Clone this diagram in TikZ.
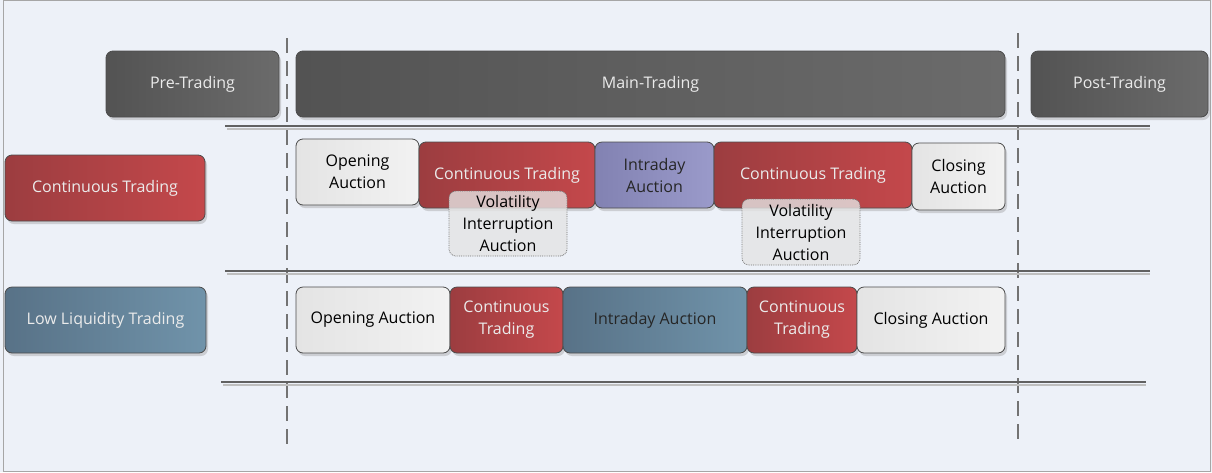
\documentclass[tikz,border=0pt]{standalone}
\usepackage{fontspec}
\setmainfont{Open Sans}
\usepackage{xcolor}
\usetikzlibrary{shadows}

\definecolor{bgpage}{HTML}{EDF1F8}
\definecolor{darkA}{HTML}{535353}
\definecolor{darkB}{HTML}{6B6B6B}
\definecolor{redA}{HTML}{9C3D40}
\definecolor{redB}{HTML}{C4484B}
\definecolor{steelA}{HTML}{587287}
\definecolor{steelB}{HTML}{7093AA}
\definecolor{purpA}{HTML}{8282B2}
\definecolor{purpB}{HTML}{9A9ACA}
\definecolor{lightA}{HTML}{E4E4E4}
\definecolor{lightB}{HTML}{F2F2F2}

\begin{document}
\begin{tikzpicture}[x=1pt,y=-1pt,
  every node/.style={font=\fontsize{16}{22}\selectfont, align=center, inner sep=0pt},
  box/.style={rounded corners=7pt, draw=black!70, line width=0.8pt,
    drop shadow={shadow xshift=2pt, shadow yshift=-3pt, opacity=0.3}},
  darkbox/.style={box, left color=darkA, right color=darkB, text=white!92!black},
  redbox/.style={box, left color=redA, right color=redB, text=white!92!black},
  steelbox/.style={box, left color=steelA, right color=steelB, text=white!92!black},
  purpbox/.style={box, left color=purpA, right color=purpB, text=black!85},
  lightbox/.style={box, left color=lightA, right color=lightB, text=black},
  viabox/.style={rounded corners=7pt, draw=black!55, densely dotted, line width=0.8pt,
    fill=lightA, fill opacity=0.8, text opacity=1, text=black},
  rule/.style={draw=black!62, line width=1.3pt},
  ruleshade/.style={draw=black!25, line width=1.3pt},
  phasesep/.style={draw=black!55, line width=1.3pt, dash pattern=on 15pt off 8pt}]

  \useasboundingbox[fill=bgpage] (0,0) rectangle (1212,472);
  \draw[black!35, line width=0.8pt] (3,0.5) rectangle (1210,471.5);

  % phase separators and row rules
  \draw[phasesep] (287,38) -- (287,445);
  \draw[phasesep] (1018,33) -- (1018,443);
  \draw[ruleshade] (227,129) -- (1150,129);
  \draw[rule] (225,126) -- (1150,126);
  \draw[ruleshade] (227,274) -- (1150,274);
  \draw[rule] (225,271) -- (1150,271);
  \draw[ruleshade] (223,385) -- (1146,385);
  \draw[rule] (221,382) -- (1146,382);

  % trading phases
  \node[darkbox, minimum width=173pt, minimum height=66pt] (pre)  at (192.5,84) {Pre-Trading};
  \node[darkbox, minimum width=709pt, minimum height=66pt] (main) at (650.5,84) {Main-Trading};
  \node[darkbox, minimum width=177pt, minimum height=66pt] (post) at (1119.5,84) {Post-Trading};

  % trading models
  \node[redbox,   minimum width=200pt, minimum height=66pt] (ct_lbl) at (105,188)   {Continuous Trading};
  \node[steelbox, minimum width=201pt, minimum height=66pt] (ll_lbl) at (105.5,320) {Low Liquidity Trading};

  % continuous trading schedule
  \node[lightbox, minimum width=123pt, minimum height=66pt] (oa_1)  at (357.5,172) {Opening\\Auction};
  \node[redbox,   minimum width=176pt, minimum height=66pt] (ct_1a) at (507,175)   {Continuous Trading};
  \node[purpbox,  minimum width=119pt, minimum height=66pt] (ia_1)  at (654.5,175) {Intraday\\Auction};
  \node[redbox,   minimum width=198pt, minimum height=66pt] (ct_1b) at (813,175)   {Continuous Trading};
  \node[lightbox, minimum width=93pt,  minimum height=67pt] (ca_1)  at (958.5,176.5) {Closing\\Auction};
  \node[viabox,   minimum width=118pt, minimum height=65pt] (via_1) at (508,223.5) {Volatility\\Interruption\\Auction};
  \node[viabox,   minimum width=118pt, minimum height=66pt] (via_2) at (801,232)   {Volatility\\Interruption\\Auction};

  % low liquidity schedule
  \node[lightbox, minimum width=154pt, minimum height=66pt] (oa_2)  at (373,320)   {Opening Auction};
  \node[redbox,   minimum width=113pt, minimum height=66pt] (ct_2a) at (506.5,320) {Continuous\\Trading};
  \node[steelbox, minimum width=184pt, minimum height=66pt, text=black!85] (ia_2) at (655,320) {Intraday Auction};
  \node[redbox,   minimum width=110pt, minimum height=66pt] (ct_2b) at (802,320)   {Continuous\\Trading};
  \node[lightbox, minimum width=148pt, minimum height=66pt] (ca_2)  at (931,320)   {Closing Auction};
\end{tikzpicture}
\end{document}
